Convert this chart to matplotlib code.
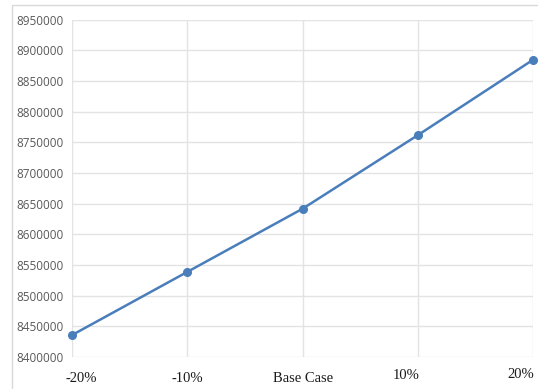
import matplotlib.pyplot as plt
from matplotlib.patches import Rectangle
from matplotlib.transforms import ScaledTranslation

cases = ["-20%", "-10%", "Base Case", "10%", "20%"]
values = [8436000, 8539000, 8642000, 8762000, 8885000]
y_ticks = list(range(8400000, 8950001, 50000))

fig = plt.figure(figsize=(5.38, 3.89), dpi=100)
ax = fig.add_axes([0.134, 0.082, 0.857, 0.867])

# light frame around the whole chart
fig.patches.append(Rectangle((0.022, -0.02), 1.0, 1.007, transform=fig.transFigure,
                             fill=False, edgecolor="#d9d9d9", linewidth=1.0))

x = range(len(cases))
ax.plot(x, values, color="#4a7ebb", linewidth=1.8, marker="o", markersize=5.5, clip_on=False, zorder=3)

ax.set_xlim(0, len(cases) - 1)
ax.set_ylim(8400000, 8950000)
ax.set_yticks(y_ticks)
ax.set_yticklabels([str(v) for v in y_ticks], fontsize=8.5, color="#595959", family="Open Sans")
ax.set_xticks(list(x))
ax.set_xticklabels(cases, fontsize=10.5, family="Liberation Serif", color="#1a1a1a")
ax.tick_params(length=0)
ax.tick_params(axis="y", pad=6)
ax.tick_params(axis="x", pad=10)

# nudge the category labels (pixel offsets)
shifts = [(9, -1), (0, -1), (0, -1), (-12, 2), (-12, 3)]
for lab, (dx, dy) in zip(ax.get_xticklabels(), shifts):
    lab.set_transform(lab.get_transform() + ScaledTranslation(dx / 100, dy / 100, fig.dpi_scale_trans))

ax.grid(True, color="#e3e3e3", linewidth=1.0)
for s in ax.spines.values():
    s.set_visible(False)
ax.set_axisbelow(True)

fig.savefig("out.png", dpi=100)
